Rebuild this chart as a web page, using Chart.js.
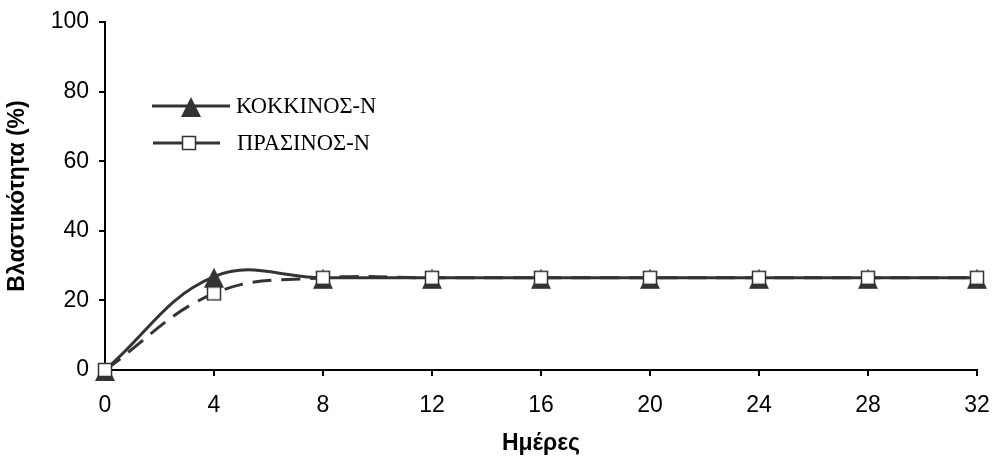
<!DOCTYPE html>
<html>
<head>
<meta charset="utf-8">
<script src="https://cdn.jsdelivr.net/npm/chart.js@4.4.1/dist/chart.umd.min.js"></script>
<style>
  body { margin: 0; background: #fff; }
</style>
</head>
<body>
<canvas id="myChart" width="997" height="464"></canvas>
<script>
const DAYS = [0, 4, 8, 12, 16, 20, 24, 28, 32];
const KOKKINOS = [0, 26.8, 26.5, 26.5, 26.5, 26.5, 26.5, 26.5, 26.5];
const PRASINOS = [0, 22, 26.5, 26.5, 26.5, 26.5, 26.5, 26.5, 26.5];
const LABELS = ['ΚΟΚΚΙΝΟΣ-Ν', 'ΠΡΑΣΙΝΟΣ-Ν'];

const LINE_COLOR = '#333333';

// Excel-like triangle marker, sits a bit lower than the point
function makeTriangle() {
    const c = document.createElement('canvas');
    c.width = 22; c.height = 32;
    const g = c.getContext('2d');
    g.fillStyle = LINE_COLOR;
    g.beginPath();
    g.moveTo(11, 7);
    g.lineTo(21, 27);
    g.lineTo(1, 27);
    g.closePath();
    g.fill();
    return c;
}
function makeSquare() {
    const c = document.createElement('canvas');
    c.width = 16; c.height = 16;
    const g = c.getContext('2d');
    g.fillStyle = '#fff';
    g.fillRect(1.5, 1.5, 13, 13);
    g.strokeStyle = LINE_COLOR;
    g.lineWidth = 1.5;
    g.strokeRect(1.5, 1.5, 13, 13);
    return c;
}
const TRI = makeTriangle();
const SQR = makeSquare();

const insideLegend = {
    id: 'insideLegend',
    afterDraw(chart) {
        const ctx = chart.ctx;
        ctx.save();
        ctx.strokeStyle = LINE_COLOR;
        ctx.lineWidth = 3;
        ctx.beginPath();
        ctx.moveTo(152, 106); ctx.lineTo(230, 106);
        ctx.stroke();
        ctx.drawImage(TRI, 191 - TRI.width / 2, 106 - TRI.height / 2);

        ctx.beginPath();
        ctx.moveTo(153, 143); ctx.lineTo(220, 143);
        ctx.stroke();
        ctx.drawImage(SQR, 189 - SQR.width / 2, 143 - SQR.height / 2);

        ctx.fillStyle = '#000';
        ctx.font = '22.5px "Liberation Serif", "Times New Roman", serif';
        ctx.textBaseline = 'alphabetic';
        ctx.fillText(LABELS[0], 236, 113);
        ctx.fillText(LABELS[1], 237, 150);
        ctx.restore();
    }
};

const tickFont = { family: '"Liberation Sans", Arial, sans-serif', size: 23 };
const titleFont = { family: '"Liberation Sans", Arial, sans-serif', size: 23, weight: 'bold' };

const CONTEXT = document.getElementById('myChart').getContext('2d');
new Chart(CONTEXT,
{
    type: 'line',
    data:
    {
        datasets:
        [{
            label: LABELS[0],
            data: DAYS.map((d, i) => ({ x: d, y: KOKKINOS[i] })),
            borderColor: LINE_COLOR,
            borderWidth: 3,
            tension: 0.4,
            pointStyle: TRI,
            clip: false,
            order: 1
        },
        {
            label: LABELS[1],
            data: DAYS.map((d, i) => ({ x: d, y: PRASINOS[i] })),
            borderColor: LINE_COLOR,
            borderWidth: 3,
            borderDash: [19, 10],
            tension: 0.4,
            pointStyle: SQR,
            clip: false,
            order: 0
        }]
    },
    options:
    {
        responsive: false,
        animation: false,
        layout: { padding: { top: 22, right: 20, bottom: 0, left: 0 } },
        plugins:
        {
            legend: { display: false },
            tooltip: { enabled: false }
        },
        scales:
        {
            x:
            {
                type: 'linear',
                min: 0,
                max: 32,
                ticks: { stepSize: 4, color: '#000', font: tickFont, padding: 16, maxRotation: 0 },
                grid: { drawOnChartArea: false, color: '#000', lineWidth: 2, tickLength: 6 },
                border: { color: '#000', width: 2 },
                title: { display: true, text: 'Ημέρες', color: '#000', font: titleFont, padding: { top: 0, bottom: 7 } },
                afterFit: (scale) => { scale.height = 94; scale.paddingLeft = 0; scale.paddingRight = 0; }
            },
            y:
            {
                min: 0,
                max: 100,
                ticks: { stepSize: 20, color: '#000', font: tickFont, padding: 10 },
                grid: { drawOnChartArea: false, color: '#000', lineWidth: 2, tickLength: 6 },
                border: { color: '#000', width: 2 },
                title: { display: true, text: 'Βλαστικότητα (%)', color: '#000', font: titleFont, padding: { top: 4, bottom: 0 } },
                afterFit: (scale) => { scale.width = 105; scale.paddingTop = 0; scale.paddingBottom = 0; }
            }
        }
    },
    plugins: [insideLegend]
});
</script>
</body>
</html>
